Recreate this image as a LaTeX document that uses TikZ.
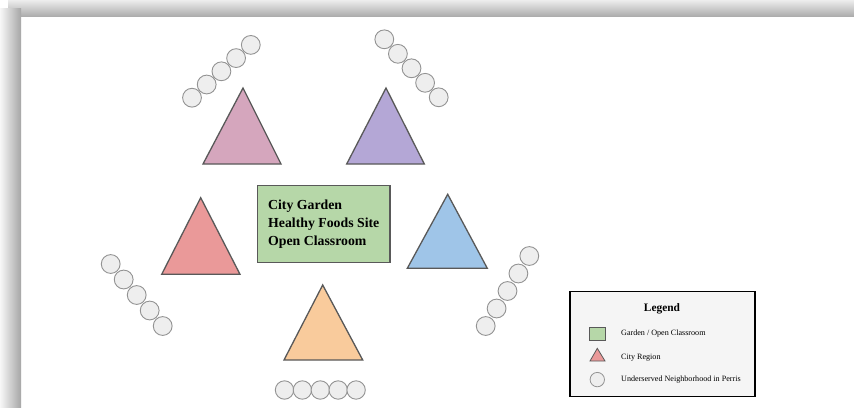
\documentclass[tikz,border=0pt]{standalone}
\usepackage{fontspec}
\setmainfont{Liberation Serif}
\usetikzlibrary{positioning}

\definecolor{regpink}{HTML}{D5A6BD}
\definecolor{regpurple}{HTML}{B4A7D6}
\definecolor{regred}{HTML}{EA9999}
\definecolor{regblue}{HTML}{9FC5E8}
\definecolor{regorange}{HTML}{F9CB9C}
\definecolor{gardengreen}{HTML}{B6D7A8}
\definecolor{edgegrey}{HTML}{595959}

\begin{document}
\begin{tikzpicture}[x=1pt, y=-1pt,
  region/.style={draw=edgegrey, line width=1.3pt, line join=miter},
  hood/.style={draw=gray!85, fill=gray!13, line width=0.9pt},
  keytext/.style={anchor=west, inner sep=0pt, font=\fontsize{8.1}{9}\selectfont}]

% frame
\useasboundingbox (0,0) rectangle (854,407);
\fill[white] (0,0) rectangle (854,407);
\shade[top color=black!7, bottom color=black!32] (8,0) rectangle (854,16);
\shade[left color=black!3, right color=black!35] (0,8) rectangle (21,407);

% city regions
\draw[region, fill=regpink] (243,88) -- (281,164) -- (203,164) -- cycle;
\draw[region, fill=regpurple] (386,88) -- (424.3,164) -- (346.7,164) -- cycle;
\draw[region, fill=regred] (200.7,197.7) -- (240,274.3) -- (161.7,274.3) -- cycle;
\draw[region, fill=regblue] (447.7,194.3) -- (487.3,268.3) -- (407.3,268.3) -- cycle;
\draw[region, fill=regorange] (322.7,285) -- (362.7,360) -- (284,360) -- cycle;

% neighborhoods
\foreach \i in {0,...,4} {
  \draw[hood] ({192+14.7*\i},{97.7-13.2*\i}) circle (9.4);
  \draw[hood] ({384.3+13.6*\i},{39.3+14.5*\i}) circle (9.4);
  \draw[hood] ({110.7+13*\i},{264+15.5*\i}) circle (9.4);
  \draw[hood] ({529.3-10.9*\i},{256+17.5*\i}) circle (9.4);
  \draw[hood] ({284.5+17.9*\i},390) circle (9.2);
}

\node[draw=edgegrey, line width=1.3pt, fill=gardengreen, minimum width=132.5pt, minimum height=77pt, align=left, font=\bfseries\fontsize{13.8}{18.3}\selectfont] (garden) at (323.75,224) {City Garden\\Healthy Foods Site\\Open Classroom};

% legend
\node[draw=black, line width=1.5pt, fill=gray!8, minimum width=185pt, minimum height=105pt] (legend) at (662.5,344.2) {};
\node[font=\bfseries\fontsize{11.4}{13}\selectfont] (legtitle) at (662,309) {Legend};
\node[draw=edgegrey, line width=0.8pt, fill=gardengreen, minimum width=15.5pt, minimum height=13pt, inner sep=0pt] (keygarden) at (597.2,333.4) {};
\draw[region, line width=0.8pt, fill=regred] (597.3,348.3) -- (605,361) -- (590,361) -- cycle;
\draw[hood, line width=0.8pt] (597.3,379.6) circle (7.2);
\node[keytext] (txtgarden) at (621,334) {Garden / Open Classroom};
\node[keytext] (txtregion) at (621,357.5) {City Region};
\node[keytext] (txthood) at (621,379.5) {Underserved Neighborhood in Perris};

\end{tikzpicture}
\end{document}
